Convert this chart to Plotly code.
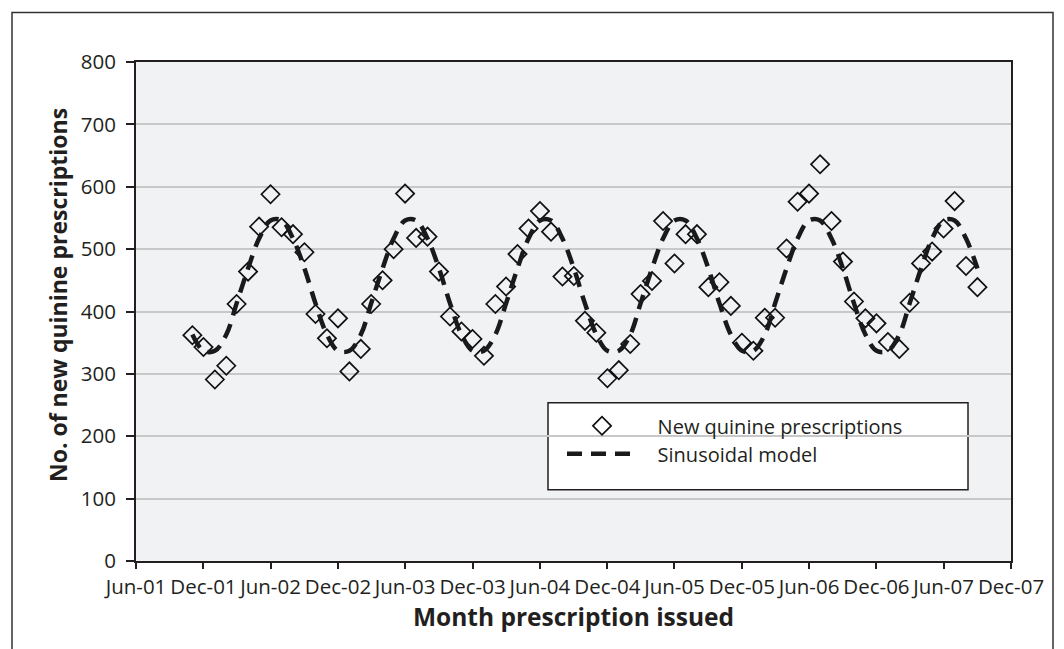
import pandas as pd
import plotly.graph_objects as go

# Monthly observations, Nov-2001 .. Sep-2007
months = pd.date_range("2001-11-01", "2007-09-01", freq="MS")

new_prescriptions = [
    362, 343,
    291, 313, 412, 464, 536, 588, 535, 524, 495, 396, 357, 389,
    304, 340, 412, 450, 500, 589, 518, 520, 464, 392, 368, 356,
    329, 412, 440, 492, 533, 561, 528, 456, 457, 385, 366, 293,
    306, 348, 428, 449, 545, 477, 524, 524, 439, 447, 409, 350,
    337, 390, 390, 501, 576, 589, 636, 545, 480, 416, 389, 381,
    351, 340, 414, 477, 496, 533, 577, 473, 439,
]

sinusoidal_model = [
    363, 337,
    337, 363, 413, 469, 517, 546, 546, 517, 469, 413, 363, 337,
    337, 363, 413, 469, 517, 546, 546, 517, 469, 413, 363, 337,
    337, 363, 413, 469, 517, 546, 546, 517, 469, 413, 363, 337,
    337, 363, 413, 469, 517, 546, 546, 517, 469, 413, 363, 337,
    337, 363, 413, 469, 517, 546, 546, 517, 469, 413, 363, 337,
    337, 363, 413, 469, 517, 546, 546, 517, 469,
]

tick_dates = ["2001-06-01", "2001-12-01", "2002-06-01", "2002-12-01", "2003-06-01",
              "2003-12-01", "2004-06-01", "2004-12-01", "2005-06-01", "2005-12-01",
              "2006-06-01", "2006-12-01", "2007-06-01", "2007-12-01"]
tick_labels = ["Jun-01", "Dec-01", "Jun-02", "Dec-02", "Jun-03", "Dec-03", "Jun-04",
               "Dec-04", "Jun-05", "Dec-05", "Jun-06", "Dec-06", "Jun-07", "Dec-07"]

y_ticks = [0, 100, 200, 300, 400, 500, 600, 700, 800]

series_names = ["New quinine prescriptions", "Sinusoidal model"]

FONT = "Open Sans"
TXT = "#231f20"
NB = "\u00a0" * 3

fig = go.Figure()
fig.add_trace(go.Scatter(
    x=months, y=new_prescriptions, mode="markers", name=NB + series_names[0],
    legend="legend",
    marker=dict(symbol="diamond-open", size=14, color="#111111",
                line=dict(width=1.7, color="#111111")),
))
fig.add_trace(go.Scatter(
    x=months, y=sinusoidal_model, mode="lines", name=NB + series_names[1],
    legend="legend2",
    line=dict(color="#1a1a1a", width=4.5, dash="15px,9px", shape="spline"),
))

# page has an 8px body margin; figure is sized so the page matches 1064x649
OFF = 8
FW, FH = 1064 - OFF, 649 - OFF
PX0, PX1 = 136, 1011      # plot area x in page px
PY0, PY1 = 61.5, 561.5    # plot area y in page px
L, R = PX0 - OFF, FW - (PX1 - OFF)
T, B = PY0 - OFF, FH - (PY1 - OFF)


def px_x(p):
    return (p - PX0) / (PX1 - PX0)


def px_y(p):
    return (PY1 - p) / (PY1 - PY0)


shapes = [
    # legend box
    dict(type="rect", xref="paper", yref="paper",
         x0=px_x(548), x1=px_x(968), y0=px_y(490), y1=px_y(403),
         fillcolor="white", line=dict(color="#231f20", width=1.5), layer="between"),
    # outer frame
    dict(type="path", xref="paper", yref="paper",
         path=f"M {px_x(12)},{px_y(700)} L {px_x(12)},{px_y(12)} L {px_x(1053)},{px_y(12)} L {px_x(1053)},{px_y(700)}",
         line=dict(color="#333333", width=1.5)),
]

leg_common = dict(xanchor="left", yanchor="top", bgcolor="rgba(0,0,0,0)", borderwidth=0,
                  font=dict(size=20, family=FONT, color=TXT), itemwidth=70)

fig.update_layout(
    width=FW, height=FH,
    margin=dict(l=L, r=R, t=T, b=B),
    paper_bgcolor="white",
    plot_bgcolor="#f1f2f4",
    font=dict(family=FONT, color=TXT, size=20),
    showlegend=True,
    legend=dict(x=px_x(562), y=px_y(406.5), **leg_common),
    legend2=dict(x=px_x(562), y=px_y(434.5), **leg_common),
    shapes=shapes,
    annotations=[dict(text="<b>No. of new quinine prescriptions</b>", xref="paper", yref="paper",
                      x=px_x(58), y=px_y(295), textangle=-90, showarrow=False,
                      font=dict(size=23, family=FONT, color=TXT),
                      xanchor="center", yanchor="middle")],
)

fig.update_xaxes(
    type="date", range=["2001-06-01", "2007-12-01"],
    tickvals=tick_dates, ticktext=tick_labels,
    ticks="outside", ticklen=6, tickwidth=2, tickcolor="#231f20",
    showline=True, linecolor="#231f20", linewidth=2, mirror=True,
    showgrid=False, zeroline=False,
    tickfont=dict(size=20.5, family=FONT, color=TXT),
    title=dict(text="<b>Month prescription issued</b>", font=dict(size=24.5, family=FONT, color=TXT),
               standoff=5),
)
fig.update_yaxes(
    range=[0, 800], tickvals=y_ticks,
    ticks="outside", ticklen=8, tickwidth=2, tickcolor="#231f20",
    showline=True, linecolor="#231f20", linewidth=2, mirror=True,
    showgrid=True, gridcolor="#c8c8c8", gridwidth=1.5, zeroline=False,
    tickfont=dict(size=20.5, family=FONT, color=TXT),
    ticklabelstandoff=6,
)

fig.write_html("out.html")
